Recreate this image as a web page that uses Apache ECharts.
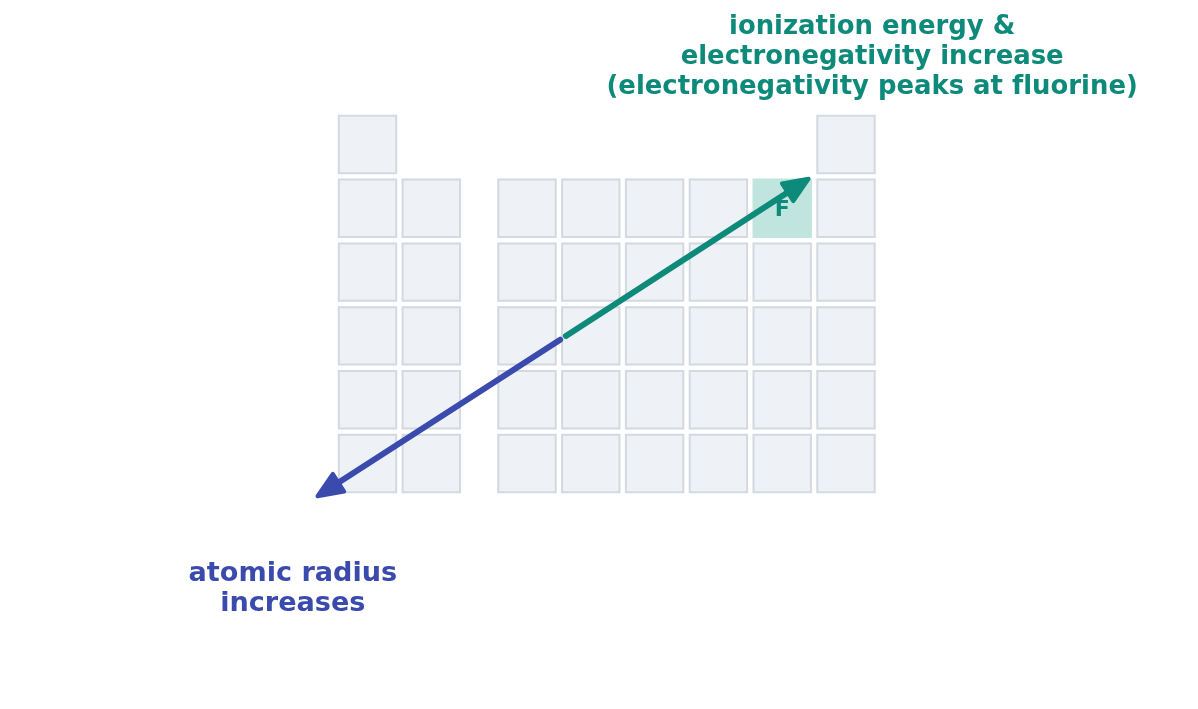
<!DOCTYPE html>
<html><head><meta charset="utf-8">
<script src="https://cdn.jsdelivr.net/npm/echarts@6/dist/echarts.min.js"></script>
<style>html,body{margin:0;padding:0;background:#fff}#c{width:1198px;height:709px}</style>
</head><body><div id="c"></div>
<script>
// Table skeleton: groups shown and their x positions (column units)
const groups = [1, 2, 13, 14, 15, 16, 17, 18];
const groupX = [0, 1, 2.5, 3.5, 4.5, 5.5, 6.5, 7.5];
const periods = [1, 2, 3, 4, 5, 6];
// highlighted element
const highlight = { symbol: 'F', group: 17, period: 2 };
// arrows: [x0, y0, x1, y1] in table units
const trendArrow = [3.11, 4.0, 6.94, 1.52];
const radiusArrow = [3.02, 4.06, -0.81, 6.53];
// annotations (\u200C keeps "fl" from being drawn as a ligature)
const trendText = 'ionization energy &\nelectronegativity increase\n(electronegativity peaks at f\u200Cluorine)';
const trendTextPos = [7.91, -0.37];
const radiusText = 'atomic radius\nincreases';
const radiusTextPos = [-1.17, 7.97];

const TEAL = '#0e8a7a', BLUE = '#3a4aad';

const cells = [];
periods.forEach(p => {
  groups.forEach((g, i) => {
    if (p === 1 && g !== 1 && g !== 18) return;
    const hl = (g === highlight.group && p === highlight.period);
    cells.push([groupX[i], p, hl ? 1 : 0]);
  });
});
const hlX = groupX[groups.indexOf(highlight.group)];

const chart = echarts.init(document.getElementById('c'));

function arrowItem(params, api) {
  const p0 = api.coord([api.value(0), api.value(1)]);
  const p1 = api.coord([api.value(2), api.value(3)]);
  const color = api.value(4) === 0 ? TEAL : BLUE;
  const dx = p1[0] - p0[0], dy = p1[1] - p0[1];
  const L = Math.sqrt(dx * dx + dy * dy);
  const ux = dx / L, uy = dy / L;
  const hl = 25, hw = 10.5;
  const tx = p1[0] - ux * 2, ty = p1[1] - uy * 2;
  const bx = tx - ux * hl, by = ty - uy * hl;
  const nx = -uy, ny = ux;
  return {
    type: 'group',
    children: [
      { type: 'line', shape: { x1: p0[0], y1: p0[1], x2: bx + ux * 4, y2: by + uy * 4 },
        style: { stroke: color, lineWidth: 6, lineCap: 'round' } },
      { type: 'polygon', shape: { points: [[tx, ty], [bx + nx * hw, by + ny * hw], [bx - nx * hw, by - ny * hw]] },
        style: { fill: color, stroke: color, lineWidth: 4, lineJoin: 'round' } }
    ]
  };
}

chart.setOption({
  animation: false,
  grid: { left: 303.7, right: 256.3, top: 80.7, bottom: 181.7 },
  xAxis: { type: 'value', min: -1, max: 9, show: false },
  yAxis: { type: 'value', min: 0, max: 7, inverse: true, show: false },
  series: [
    {
      type: 'custom',
      data: cells,
      renderItem: function (params, api) {
        const c = api.coord([api.value(0), api.value(1)]);
        const s = api.size([0.9, 0.9]);
        const hl = api.value(2) === 1;
        return {
          type: 'rect',
          shape: { x: c[0] - s[0] / 2, y: c[1] - s[1] / 2, width: s[0], height: s[1] },
          style: { fill: hl ? '#c0e5de' : '#eef1f6', stroke: hl ? '#c0e5de' : '#d3d9e0', lineWidth: 2 }
        };
      }
    },
    {
      type: 'custom',
      data: [[hlX, highlight.period, highlight.symbol]],
      renderItem: function (params, api) {
        const c = api.coord([api.value(0), api.value(1)]);
        return { type: 'text', x: c[0], y: c[1] + 2, style: { text: highlight.symbol, fill: TEAL,
          font: 'bold 22px "DejaVu Sans"', align: 'center', verticalAlign: 'middle' } };
      }
    },
    {
      type: 'custom',
      clip: false,
      data: [trendArrow.concat([0]), radiusArrow.concat([1])],
      renderItem: arrowItem
    },
    {
      type: 'custom',
      clip: false,
      data: [trendTextPos.concat([0]), radiusTextPos.concat([1])],
      renderItem: function (params, api) {
        const c = api.coord([api.value(0), api.value(1)]);
        const first = api.value(2) === 0;
        return { type: 'text', x: c[0], y: c[1], style: {
          text: first ? trendText : radiusText, fill: first ? TEAL : BLUE,
          fontFamily: 'DejaVu Sans', fontWeight: 'bold', fontSize: first ? 25.9 : 27.1, lineHeight: 30,
          align: 'center', verticalAlign: 'middle' } };
      }
    }
  ]
});
</script></body></html>
